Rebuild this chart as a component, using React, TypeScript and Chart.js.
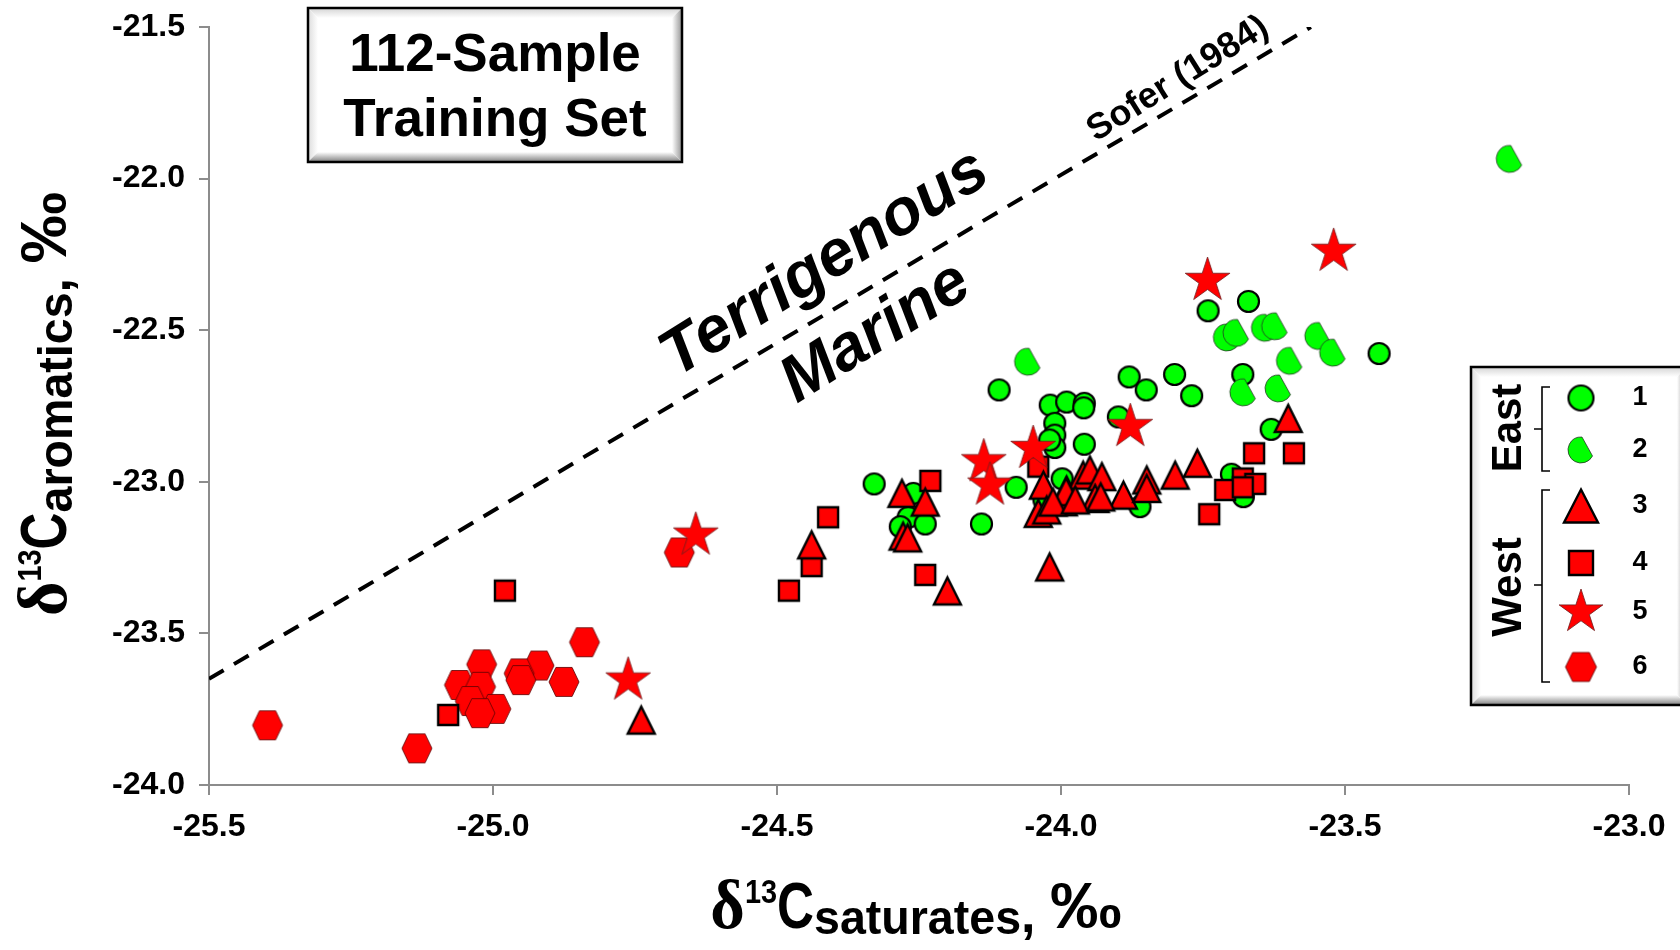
import React, { useEffect, useRef } from 'react';
import { Chart, registerables } from 'chart.js';

Chart.register(...registerables);

// ---------- data ----------
const X_TICKS = [-25.5, -25.0, -24.5, -24.0, -23.5, -23.0];
const Y_TICKS = [-24.0, -23.5, -23.0, -22.5, -22.0, -21.5];

const LEGEND_LABELS = ['1', '2', '3', '4', '5', '6'];
const TITLE_LINES = ['112-Sample', 'Training Set'];

// Sofer (1984) terrigenous / marine divide
const SOFER_X = [-25.5, -23.56];
const SOFER_Y = [-23.65, -21.5];

// East group 1 (circles)
const EAST_1: number[][] = [
  [-24.329, -23.007], [-24.26, -23.038], [-24.269, -23.117], [-24.239, -23.139], [-24.283, -23.148],
  [-24.14, -23.139], [-24.079, -23.018], [-24.109, -22.697], [-24.019, -22.747], [-23.99, -22.737],
  [-23.959, -22.741], [-23.96, -22.756], [-24.011, -22.807], [-24.011, -22.846], [-24.011, -22.887],
  [-24.02, -22.862], [-23.959, -22.876], [-23.88, -22.654], [-23.85, -22.697], [-23.8, -22.646],
  [-23.77, -22.716], [-23.899, -22.786], [-23.741, -22.436], [-23.67, -22.405], [-23.44, -22.577],
  [-23.68, -22.646], [-23.63, -22.827], [-23.7, -22.975], [-23.679, -23.049], [-23.861, -23.082],
  [-23.998, -22.99], [-24.03, -23.06],
];
// East group 2 (cut circles)
const EAST_2: number[][] = [
  [-24.058, -22.604], [-23.708, -22.524], [-23.691, -22.509], [-23.641, -22.492], [-23.623, -22.487],
  [-23.547, -22.519], [-23.521, -22.574], [-23.597, -22.601], [-23.679, -22.705], [-23.617, -22.692],
  [-23.21, -21.935],
];
// West group 3 (triangles)
const WEST_3: number[][] = [
  [-24.28, -23.038], [-24.239, -23.067], [-24.278, -23.179], [-24.27, -23.185], [-24.439, -23.208],
  [-24.2, -23.36], [-24.739, -23.786], [-24.04, -23.104], [-24.02, -23.281], [-24.031, -23.011],
  [-23.99, -23.027], [-23.996, -23.066], [-23.961, -22.978], [-23.949, -22.961], [-23.928, -22.983],
  [-23.94, -23.055], [-23.991, -23.033], [-23.89, -23.044], [-23.849, -22.994], [-23.849, -23.022],
  [-23.799, -22.978], [-23.76, -22.939], [-23.6, -22.791], [-24.025, -23.093], [-24.014, -23.067],
  [-23.975, -23.06], [-23.93, -23.05],
];
// West group 4 (squares)
const WEST_4: number[][] = [
  [-24.23, -22.997], [-24.41, -23.117], [-24.439, -23.278], [-24.479, -23.359], [-24.239, -23.307],
  [-24.04, -22.95], [-24.979, -23.359], [-25.079, -23.769], [-23.66, -22.906], [-23.59, -22.906],
  [-23.68, -22.989], [-23.658, -23.007], [-23.711, -23.027], [-23.68, -23.018], [-23.739, -23.107],
];
// West group 5 (stars)
const WEST_5: number[][] = [
  [-23.52, -22.24], [-23.742, -22.336], [-23.878, -22.818], [-24.136, -22.934], [-24.125, -23.011],
  [-24.049, -22.89], [-24.643, -23.176], [-24.762, -23.654],
];
// West group 6 (hexagons)
const WEST_6: number[][] = [
  [-25.397, -23.803], [-25.134, -23.879], [-24.839, -23.529], [-24.875, -23.66], [-24.919, -23.606],
  [-24.954, -23.632], [-24.951, -23.654], [-25.02, -23.602], [-25.059, -23.67], [-25.022, -23.676],
  [-25.04, -23.723], [-24.995, -23.749], [-25.023, -23.763], [-24.672, -23.233],
];

// ---------- styling ----------
const FONT = "'Liberation Sans', Arial, Helvetica, sans-serif";
const SERIF = "'Liberation Serif', 'Times New Roman', serif";
const RED = '#ff0000';
const GREEN = '#00ff00';
const AXIS_GRAY = '#8c8c8c';

type Ctx = CanvasRenderingContext2D;

function makeImg(size: number, draw: (ctx: Ctx) => void): HTMLCanvasElement {
  const c = document.createElement('canvas');
  c.width = size;
  c.height = size;
  const ctx = c.getContext('2d') as Ctx;
  ctx.translate(size / 2, size / 2);
  draw(ctx);
  return c;
}

function polyPath(ctx: Ctx, pts: number[][]) {
  ctx.beginPath();
  pts.forEach(([px, py], i) => (i ? ctx.lineTo(px, py) : ctx.moveTo(px, py)));
  ctx.closePath();
}

const circleImg = (r: number) =>
  makeImg(Math.ceil(2 * r + 6), (ctx) => {
    ctx.beginPath();
    ctx.arc(0, 0, r, 0, Math.PI * 2);
    ctx.fillStyle = GREEN;
    ctx.fill();
    ctx.lineWidth = 2.2;
    ctx.strokeStyle = '#000';
    ctx.stroke();
  });

const halfImg = (r: number) =>
  makeImg(Math.ceil(2 * r + 6), (ctx) => {
    const a1 = (27.6 * Math.PI) / 180;
    const a2 = (274.4 * Math.PI) / 180;
    ctx.beginPath();
    ctx.arc(0, 0, r, a1, a2);
    ctx.closePath();
    ctx.fillStyle = GREEN;
    ctx.fill();
    ctx.lineWidth = 1;
    ctx.strokeStyle = 'rgba(40,40,40,0.75)';
    ctx.stroke();
  });

const triImg = (w: number, h: number) =>
  makeImg(Math.ceil(Math.max(w, h) + 10), (ctx) => {
    polyPath(ctx, [[0, -h / 2], [w / 2, h / 2], [-w / 2, h / 2]]);
    ctx.fillStyle = RED;
    ctx.fill();
    ctx.lineWidth = 2.4;
    ctx.lineJoin = 'miter';
    ctx.strokeStyle = '#000';
    ctx.stroke();
  });

const squareImg = (s: number) =>
  makeImg(Math.ceil(s + 6), (ctx) => {
    ctx.beginPath();
    ctx.rect(-s / 2, -s / 2, s, s);
    ctx.fillStyle = RED;
    ctx.fill();
    ctx.lineWidth = 2.4;
    ctx.strokeStyle = '#000';
    ctx.stroke();
  });

const starImg = (R: number) =>
  makeImg(Math.ceil(2 * R + 6), (ctx) => {
    const r = R * 0.382;
    const pts: number[][] = [];
    for (let i = 0; i < 10; i++) {
      const a = -Math.PI / 2 + (i * Math.PI) / 5;
      const rr = i % 2 === 0 ? R : r;
      pts.push([Math.cos(a) * rr, Math.sin(a) * rr]);
    }
    polyPath(ctx, pts);
    ctx.fillStyle = RED;
    ctx.fill();
    ctx.lineWidth = 1;
    ctx.strokeStyle = 'rgba(110,30,30,0.8)';
    ctx.stroke();
  });

const hexImg = (w: number, h: number) =>
  makeImg(Math.ceil(Math.max(w, h) + 6), (ctx) => {
    const hw = w / 2;
    const hh = h / 2;
    const t = w * 0.27;
    polyPath(ctx, [[-hw, 0], [-t, -hh], [t, -hh], [hw, 0], [t, hh], [-t, hh]]);
    ctx.fillStyle = RED;
    ctx.fill();
    ctx.lineWidth = 1;
    ctx.strokeStyle = 'rgba(90,0,0,0.8)';
    ctx.stroke();
  });

function bevelBox(ctx: Ctx, x: number, y: number, w: number, h: number, b: number) {
  ctx.save();
  ctx.fillStyle = '#ffffff';
  ctx.fillRect(x, y, w, h);
  const side = (pts: number[][], c0: string, gx0: number, gy0: number, gx1: number, gy1: number) => {
    const g = ctx.createLinearGradient(gx0, gy0, gx1, gy1);
    g.addColorStop(0, c0);
    g.addColorStop(1, '#ffffff');
    polyPath(ctx, pts);
    ctx.fillStyle = g;
    ctx.fill();
  };
  side([[x, y], [x + w, y], [x + w - b, y + b], [x + b, y + b]], '#d4d4d4', 0, y, 0, y + b);
  side([[x, y], [x + b, y + b], [x + b, y + h - b], [x, y + h]], '#dcdcdc', x, 0, x + b, 0);
  side([[x, y + h], [x + b, y + h - b], [x + w - b, y + h - b], [x + w, y + h]], '#7e7e7e', 0, y + h, 0, y + h - b);
  side([[x + w, y], [x + w, y + h], [x + w - b, y + h - b], [x + w - b, y + b]], '#949494', x + w, 0, x + w - b, 0);
  ctx.lineWidth = 2.5;
  ctx.strokeStyle = '#000';
  ctx.strokeRect(x, y, w, h);
  ctx.restore();
}

type Part = { t: string; size: number; dy: number; sx: number; family?: string };

function drawRich(ctx: Ctx, parts: Part[]) {
  let total = 0;
  const widths = parts.map((p) => {
    ctx.font = `bold ${p.size}px ${p.family || FONT}`;
    const w = ctx.measureText(p.t).width * p.sx;
    total += w;
    return w;
  });
  let x = -total / 2;
  parts.forEach((p, i) => {
    ctx.save();
    ctx.font = `bold ${p.size}px ${p.family || FONT}`;
    ctx.textAlign = 'left';
    ctx.textBaseline = 'alphabetic';
    ctx.fillStyle = '#000';
    ctx.translate(x, p.dy);
    ctx.scale(p.sx, 1);
    ctx.fillText(p.t, 0, 0);
    ctx.restore();
    x += widths[i];
  });
}

const titleParts = (sub: string): Part[] => [
  { t: 'δ', size: 70, dy: 0, sx: 0.95, family: SERIF },
  { t: '13', size: 34, dy: -25, sx: 0.85 },
  { t: 'C', size: 64, dy: 0, sx: 0.8 },
  { t: sub, size: 48, dy: 6, sx: 0.97 },
  { t: ',', size: 52, dy: 4, sx: 1.0 },
  { t: ' ', size: 52, dy: 0, sx: 1.0 },
  { t: '‰', size: 64, dy: 0, sx: 1.12 },
];

export default function App() {
  const ref = useRef<HTMLCanvasElement | null>(null);

  useEffect(() => {
    const canvas = ref.current;
    if (!canvas) return;

    const plotImgs = {
      c1: circleImg(10.5),
      c2: halfImg(13.5),
      c3: triImg(27, 27),
      c4: squareImg(20),
      c5: starImg(23.5),
      c6: hexImg(30, 29),
    };
    const legendImgs = [
      circleImg(12.5),
      halfImg(13),
      triImg(34, 33),
      squareImg(24),
      starImg(23),
      hexImg(31, 29),
    ];

    const toXY = (arr: number[][]) => arr.map(([x, y]) => ({ x, y }));

    const decor = {
      id: 'decor',
      afterDraw(chart: any) {
        const ctx: Ctx = chart.ctx;
        ctx.save();

        // title box
        bevelBox(ctx, 308, 8, 374, 154, 10);
        ctx.fillStyle = '#000';
        ctx.font = `bold 53px ${FONT}`;
        ctx.textAlign = 'center';
        ctx.textBaseline = 'alphabetic';
        ctx.fillText(TITLE_LINES[0], 495, 71);
        ctx.fillText(TITLE_LINES[1], 495, 136);

        // region annotations
        const ang = (-32 * Math.PI) / 180;
        const rotText = (txt: string, font: string, cx: number, cy: number) => {
          ctx.save();
          ctx.translate(cx, cy);
          ctx.rotate(ang);
          ctx.font = font;
          ctx.textAlign = 'center';
          ctx.textBaseline = 'middle';
          ctx.fillStyle = '#000';
          ctx.fillText(txt, 0, 0);
          ctx.restore();
        };
        rotText('Terrigenous', `italic bold 65px ${FONT}`, 825, 264);
        rotText('Marine', `italic bold 65px ${FONT}`, 876, 333);
        rotText('Sofer (1984)', `bold 36px ${FONT}`, 1178, 79);

        // axis titles
        ctx.save();
        ctx.translate(916, 928);
        drawRich(ctx, titleParts('saturates'));
        ctx.restore();
        ctx.save();
        ctx.translate(66, 404);
        ctx.rotate(-Math.PI / 2);
        drawRich(ctx, titleParts('aromatics'));
        ctx.restore();

        // legend
        bevelBox(ctx, 1471, 367, 216, 338, 10);
        ctx.fillStyle = '#000';
        ctx.font = `bold 42px ${FONT}`;
        ctx.textAlign = 'center';
        ctx.textBaseline = 'middle';
        [['East', 428], ['West', 587]].forEach(([t, cy]) => {
          ctx.save();
          ctx.translate(1509, cy as number);
          ctx.rotate(-Math.PI / 2);
          ctx.fillText(t as string, 0, 0);
          ctx.restore();
        });
        ctx.strokeStyle = '#000';
        ctx.lineWidth = 1.6;
        const bracket = (y0: number, y1: number, ym: number) => {
          ctx.beginPath();
          ctx.moveTo(1550, y0);
          ctx.lineTo(1542, y0);
          ctx.lineTo(1542, y1);
          ctx.lineTo(1550, y1);
          ctx.moveTo(1542, ym);
          ctx.lineTo(1534, ym);
          ctx.stroke();
        };
        bracket(387, 471, 429);
        bracket(490, 682, 585);
        const rowsY = [398, 450, 506, 563, 612, 667];
        legendImgs.forEach((img, i) => {
          ctx.drawImage(img, 1581 - img.width / 2, rowsY[i] - img.height / 2);
        });
        ctx.font = `bold 27px ${FONT}`;
        ctx.fillStyle = '#000';
        LEGEND_LABELS.forEach((l, i) => ctx.fillText(l, 1640, rowsY[i]));

        ctx.restore();
      },
    };

    const tickFont = { family: FONT, size: 32, weight: 'bold' as const };

    const chart = new Chart(canvas, {
      type: 'scatter',
      data: {
        datasets: [
          {
            label: 'Sofer (1984)',
            data: SOFER_X.map((x, i) => ({ x, y: SOFER_Y[i] })),
            showLine: true,
            borderColor: '#000',
            borderWidth: 4,
            borderDash: [17, 12],
            pointRadius: 0,
            fill: false,
            order: 10,
          },
          { label: '1', data: toXY(EAST_1), pointStyle: plotImgs.c1, pointRadius: 12, order: 6 },
          { label: '2', data: toXY(EAST_2), pointStyle: plotImgs.c2, pointRadius: 12, order: 5 },
          { label: '6', data: toXY(WEST_6), pointStyle: plotImgs.c6, pointRadius: 12, order: 4 },
          { label: '4', data: toXY(WEST_4), pointStyle: plotImgs.c4, pointRadius: 12, order: 3 },
          { label: '3', data: toXY(WEST_3), pointStyle: plotImgs.c3, pointRadius: 12, order: 2 },
          { label: '5', data: toXY(WEST_5), pointStyle: plotImgs.c5, pointRadius: 12, order: 1 },
        ] as any,
      },
      options: {
        responsive: false,
        animation: false,
        events: [],
        layout: { padding: { left: 0, right: 51, top: 27, bottom: 0 } },
        plugins: { legend: { display: false }, tooltip: { enabled: false } },
        scales: {
          x: {
            type: 'linear',
            min: -25.5,
            max: -23.0,
            afterBuildTicks: (s: any) => {
              s.ticks = X_TICKS.map((v) => ({ value: v }));
            },
            afterFit: (s: any) => {
              s.height = 165;
              s.paddingLeft = 0;
              s.paddingRight = 0;
            },
            grid: { drawOnChartArea: false, drawTicks: true, tickLength: 10, color: AXIS_GRAY, lineWidth: 2 },
            border: { color: AXIS_GRAY, width: 2 },
            ticks: {
              color: '#000',
              font: tickFont,
              padding: 13,
              maxRotation: 0,
              autoSkip: false,
              callback: (v: any) => Number(v).toFixed(1),
            },
          },
          y: {
            type: 'linear',
            min: -24.0,
            max: -21.5,
            afterBuildTicks: (s: any) => {
              s.ticks = Y_TICKS.map((v) => ({ value: v }));
            },
            afterFit: (s: any) => {
              s.width = 209;
              s.paddingTop = 0;
              s.paddingBottom = 0;
            },
            grid: { drawOnChartArea: false, drawTicks: true, tickLength: 10, color: AXIS_GRAY, lineWidth: 2 },
            border: { color: AXIS_GRAY, width: 2 },
            ticks: {
              color: '#000',
              font: tickFont,
              padding: 14,
              autoSkip: false,
              callback: (v: any) => Number(v).toFixed(1),
            },
          },
        },
      } as any,
      plugins: [decor],
    });

    return () => chart.destroy();
  }, []);

  return (
    <div style={{ position: 'fixed', left: 0, top: 0, width: 1680, height: 950, background: '#fff' }}>
      <canvas ref={ref} width={1680} height={950} style={{ width: 1680, height: 950, display: 'block' }} />
    </div>
  );
}
